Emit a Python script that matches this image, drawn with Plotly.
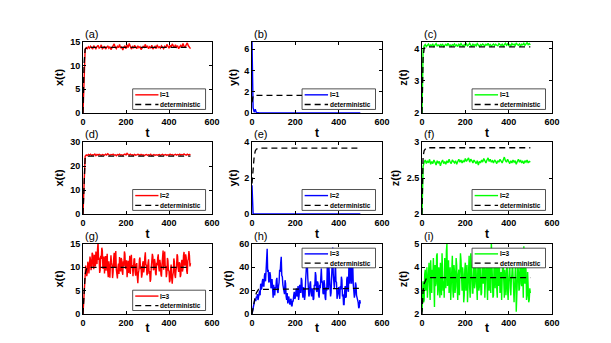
import plotly.graph_objects as go
from plotly.subplots import make_subplots

# sample times of the simulated paths and of the deterministic solutions
t = list(range(0, 505, 5))
t_fine = [i * 2.5 for i in range(201)]
t_det = [0, 5, 10, 15, 20, 30, 500]
t_ticks = [0, 200, 400, 600]

# I=1
x1 = [0, 10.2, 13.4, 13.8, 13.6, 14.0, 13.7, 14.1, 13.9, 13.5,
      14.2, 13.8, 13.6, 14.0, 14.3, 13.7, 13.9, 14.4, 13.6, 13.8,
      14.1, 13.5, 13.9, 14.2, 13.7, 14.0, 13.4, 13.8, 14.3, 14.6,
      13.9, 13.6, 14.1, 13.8, 14.5, 13.7, 14.0, 13.3, 13.9, 14.2,
      13.6, 14.4, 13.8, 14.7, 14.1, 13.5, 14.0, 13.7, 14.3, 13.9,
      13.6, 14.2, 13.8, 14.0, 13.4, 13.7, 14.1, 13.9, 14.5, 13.8,
      14.2, 13.6, 14.0, 13.7, 14.3, 13.5, 13.9, 14.1, 13.6, 14.4,
      13.8, 14.0, 13.7, 14.2, 13.9, 13.6, 14.1, 13.8, 14.5, 14.0,
      13.7, 14.3, 13.9, 14.6, 14.1, 13.8, 14.4, 13.9, 14.2, 13.6,
      14.0, 14.3, 13.8, 14.7, 14.1, 13.9, 14.4, 14.8, 14.2, 14.0, 13.6]
y1 = [6.66, 0.5, 0.08, 0.35, 0.05, 0.01] + [0.0] * 95
z1 = [2.0, 3.95, 4.08, 4.12, 4.06, 4.10, 4.14, 4.07, 4.11, 4.09,
      4.13, 4.06, 4.10, 4.15, 4.08, 4.11, 4.07, 4.12, 4.09, 4.14,
      4.06, 4.10, 4.13, 4.08, 4.16, 4.09, 4.11, 4.07, 4.12, 4.10,
      4.14, 4.08, 4.11, 4.06, 4.13, 4.09, 4.15, 4.10, 4.07, 4.12,
      4.09, 4.14, 4.08, 4.11, 4.16, 4.10, 4.07, 4.13, 4.09, 4.12,
      4.08, 4.15, 4.10, 4.06, 4.12, 4.09, 4.14, 4.11, 4.08, 4.13,
      4.10, 4.16, 4.09, 4.12, 4.07, 4.11, 4.14, 4.09, 4.13, 4.10,
      4.08, 4.15, 4.11, 4.09, 4.13, 4.07, 4.12, 4.16, 4.10, 4.14,
      4.09, 4.12, 4.08, 4.15, 4.11, 4.13, 4.09, 4.17, 4.12, 4.10,
      4.14, 4.08, 4.13, 4.11, 4.16, 4.10, 4.14, 4.18, 4.12, 4.15, 4.11]
x1_det = [0, 10.5, 13.5, 13.8, 13.85, 13.85, 13.85]
y1_det = [1.0, 1.6, 1.65, 1.65, 1.65, 1.65, 1.65]
z1_det = [2.0, 3.7, 4.0, 4.04, 4.05, 4.05, 4.05]

# I=2
x2 = [0, 17.5, 24.1, 24.6, 24.3, 24.8, 24.5, 24.9, 24.4, 24.7,
      24.6, 25.0, 24.3, 24.8, 24.5, 24.9, 24.6, 24.4, 24.8, 24.7,
      24.5, 24.9, 24.6, 25.1, 24.7, 24.4, 24.8, 24.6, 24.9, 24.5,
      24.7, 24.3, 24.8, 24.6, 24.9, 24.5, 24.7, 24.4, 24.8, 25.0,
      24.6, 25.3, 24.8, 24.5, 24.9, 24.6, 24.7, 24.4, 24.8, 24.5,
      24.6, 24.9, 24.7, 24.4, 24.8, 24.5, 24.7, 24.3, 24.6, 24.8,
      24.4, 24.7, 24.5, 24.9, 24.3, 24.6, 24.8, 24.4, 24.7, 24.5,
      24.6, 24.8, 24.4, 24.7, 24.9, 24.5, 24.6, 24.8, 24.4, 24.7,
      24.5, 24.9, 24.6, 24.8, 24.4, 24.7, 24.9, 24.5, 24.8, 24.6,
      24.9, 24.5, 24.8, 24.6, 25.0, 24.7, 24.5, 24.9, 24.6, 24.8, 24.7]
y2 = [1.6, 0.02] + [0.0] * 99
z2 = [2.0, 2.66, 2.72, 2.75, 2.70, 2.74, 2.71, 2.76, 2.69, 2.73,
      2.70, 2.75, 2.72, 2.68, 2.74, 2.71, 2.73, 2.67, 2.72, 2.75,
      2.70, 2.73, 2.69, 2.74, 2.71, 2.76, 2.72, 2.70, 2.75, 2.73,
      2.71, 2.74, 2.69, 2.73, 2.76, 2.72, 2.75, 2.71, 2.74, 2.72,
      2.77, 2.73, 2.75, 2.78, 2.72, 2.76, 2.74, 2.71, 2.75, 2.73,
      2.70, 2.74, 2.68, 2.73, 2.71, 2.75, 2.72, 2.77, 2.74, 2.71,
      2.75, 2.78, 2.73, 2.76, 2.72, 2.74, 2.71, 2.75, 2.73, 2.70,
      2.74, 2.72, 2.76, 2.73, 2.71, 2.75, 2.79, 2.74, 2.72, 2.76,
      2.73, 2.70, 2.74, 2.71, 2.75, 2.72, 2.74, 2.69, 2.73, 2.76,
      2.72, 2.75, 2.71, 2.73, 2.70, 2.74, 2.72, 2.75, 2.71, 2.73, 2.72]
x2_det = [0, 17.0, 23.5, 24.0, 24.1, 24.1, 24.1]
y2_det = [1.7, 2.6, 3.2, 3.5, 3.6, 3.66, 3.66]
z2_det = [2.0, 2.8, 2.88, 2.91, 2.92, 2.92, 2.92]

# I=3 (sampled on t_fine)
x3 = [0, 2.9, 4.8, 7.3, 8.2, 10.4, 9.5, 8.1, 8.9, 11.2, 10.6, 8.7, 9.8, 12.3, 11.5, 9.4, 10.2, 13.1, 12.8, 10.3,
      9.6, 12.7, 11.9, 10.2, 13.4, 11.1, 10.7, 13.8, 15.3, 11.6, 12.1, 8.8, 9.4, 12.5, 11.8, 14.2, 13.6, 9.7, 10.1, 12.3,
      8.7, 11.1, 12.4, 9.3, 10.6, 12.9, 9.2, 7.9, 11.3, 9.6, 7.8, 10.5, 12.6, 11.0, 10.4, 7.7, 8.9, 11.8, 13.1, 10.0,
      11.2, 13.5, 9.5, 8.3, 7.6, 9.9, 10.8, 8.6, 12.2, 10.1, 9.1, 12.0, 11.6, 9.0, 8.4, 11.3, 10.3, 13.4, 12.9, 9.8,
      9.7, 11.5, 7.9, 9.2, 11.4, 8.8, 10.1, 12.5, 8.6, 10.7, 12.7, 9.9, 10.5, 8.1, 9.3, 11.9, 11.8, 9.0, 8.2, 10.6,
      10.9, 8.0, 6.6, 8.7, 9.4, 11.7, 12.1, 9.6, 10.2, 7.8, 8.5, 10.8, 11.3, 8.9, 9.8, 12.2, 13.2, 10.4, 10.6, 8.3,
      8.9, 10.9, 11.7, 8.6, 9.2, 6.9, 7.4, 9.9, 10.8, 12.9, 12.3, 9.4, 9.6, 11.8, 11.1, 8.7, 8.3, 11.0, 10.4, 12.1,
      12.8, 10.0, 9.1, 11.6, 10.7, 8.5, 8.0, 10.6, 11.9, 13.6, 9.5, 11.4, 13.4, 10.3, 10.2, 7.9, 8.7, 12.0, 11.5, 9.2,
      9.3, 6.8, 7.2, 9.5, 10.6, 7.6, 6.5, 8.2, 8.9, 11.9, 11.2, 8.3, 7.7, 9.4, 10.1, 12.8, 12.4, 9.9, 9.0, 11.1,
      10.8, 7.9, 8.4, 10.9, 11.6, 9.1, 9.7, 12.5, 13.3, 10.4, 10.5, 12.8, 12.1, 9.2, 8.6, 11.4, 11.8, 13.5, 12.6, 10.2,
      10.9]
y3 = [0, 3, 5, 8, 9, 12, 13, 11, 15, 14, 17, 12, 14, 18, 20, 16, 26, 21, 22, 28,
      30, 24, 24, 33, 35, 28, 42, 47, 56, 36, 38, 27, 28, 36, 33, 22, 24, 30, 19, 14,
      25, 18, 16, 23, 22, 29, 31, 20, 18, 24, 27, 38, 36, 44, 49, 33, 32, 25, 22, 17,
      17, 29, 26, 15, 12, 18, 9, 14, 15, 10, 8, 12, 13, 7, 7, 11, 11, 16, 19, 13,
      14, 19, 22, 15, 17, 24, 12, 16, 25, 20, 18, 31, 29, 19, 14, 23, 21, 12, 16, 29,
      38, 45, 44, 31, 23, 15, 17, 26, 28, 19, 15, 22, 20, 12, 13, 25, 24, 36, 33, 20,
      19, 28, 26, 16, 14, 25, 22, 31, 39, 27, 28, 18, 17, 29, 25, 14, 12, 23, 20, 42,
      29, 21, 41, 30, 24, 15, 18, 33, 52, 57, 34, 24, 22, 31, 45, 28, 27, 13, 16, 22,
      23, 17, 13, 24, 21, 32, 29, 15, 17, 8, 8, 19, 24, 14, 15, 30, 32, 21, 19, 45,
      37, 26, 47, 33, 26, 40, 42, 25, 21, 14, 17, 27, 25, 16, 14, 11, 10, 5, 6, 12,
      9]
z3 = [2.1, 2.9, 3.4, 2.5, 2.6, 3.7, 3.9, 3.0, 3.1, 4.0, 2.7, 3.3, 3.8, 4.2, 3.2, 2.6, 4.3, 3.6, 2.9, 3.9,
      3.6, 4.4, 2.4, 2.3, 4.1, 3.2, 3.3, 4.5, 4.6, 2.8, 3.0, 4.0, 3.7, 2.7, 4.2, 3.5, 2.8, 4.6, 3.9, 3.0,
      3.4, 2.7, 4.4, 3.8, 3.1, 4.7, 5.0, 3.2, 3.6, 4.3, 2.9, 3.5, 4.0, 2.6, 3.3, 4.2, 4.5, 3.0, 2.7, 4.1,
      3.8, 2.9, 3.2, 4.4, 4.1, 3.1, 2.6, 3.7, 3.9, 2.8, 3.5, 4.6, 4.3, 3.2, 3.0, 4.0, 3.7, 2.5, 2.8, 3.9,
      4.2, 3.0, 3.4, 4.1, 2.5, 3.3, 3.9, 4.5, 3.1, 2.7, 4.6, 3.8, 3.6, 2.9, 2.9, 4.2, 4.0, 3.1, 3.3, 4.4,
      3.7, 2.9, 2.6, 3.9, 4.4, 3.0, 3.2, 4.3, 3.8, 2.8, 2.9, 4.0, 4.1, 3.3, 3.5, 4.6, 2.7, 3.4, 3.9, 4.5,
      3.3, 2.6, 4.2, 3.7, 3.0, 4.4, 3.7, 2.9, 5.1, 3.9, 3.4, 2.7, 2.8, 4.2, 4.0, 3.1, 3.6, 4.3, 3.1, 2.7,
      4.3, 3.2, 3.5, 4.1, 2.9, 3.6, 3.8, 2.6, 3.2, 4.4, 4.1, 3.0, 2.7, 3.9, 3.6, 2.8, 3.9, 4.5, 3.0, 2.6,
      3.4, 4.0, 4.2, 3.1, 2.8, 3.5, 3.7, 4.3, 3.3, 2.5, 2.5, 3.2, 4.0, 4.4, 2.1, 2.9, 3.5, 4.1, 3.8, 3.0,
      3.1, 4.2, 4.4, 3.3, 3.2, 4.0, 3.7, 2.7, 4.9, 3.6, 3.3, 4.1, 3.9, 2.6, 2.8, 3.8, 3.4, 2.5, 2.6, 3.1,
      2.9]
x3_det = [0, 5.5, 8.5, 9.5, 9.9, 10.0, 10.0]
y3_det = [0, 6, 11, 15, 18, 21, 22]
z3_det = [2.0, 3.0, 3.3, 3.45, 3.52, 3.56, 3.56]

ranges = {"x1": [0, 15], "y1": [0, 6.66], "z1": [2, 4.2],
          "x2": [0, 30], "y2": [0, 4], "z2": [2, 3],
          "x3": [0, 15], "y3": [0, 60], "z3": [2, 5]}
yticks = {"x1": [0, 5, 10, 15], "y1": [0, 2, 4, 6], "z1": [2, 3, 4],
          "x2": [0, 10, 20, 30], "y2": [0, 2, 4], "z2": [2, 2.5, 3],
          "x3": [0, 5, 10, 15], "y3": [0, 20, 40, 60], "z3": [2, 3, 4, 5]}

FONT = "Liberation Sans, Arial, sans-serif"
DASH = "6px,4px"
colors = {"x": "#ff0000", "y": "#0000ff", "z": "#00ff00"}
series = {"x1": x1, "y1": y1, "z1": z1, "x2": x2, "y2": y2, "z2": z2,
          "x3": x3, "y3": y3, "z3": z3}
dets = {"x1": x1_det, "y1": y1_det, "z1": z1_det, "x2": x2_det, "y2": y2_det,
        "z2": z2_det, "x3": x3_det, "y3": y3_det, "z3": z3_det}

# the page body has an 8px margin, so the figure is 16px smaller than the window
W, H, OFF = 595, 327, 8


def px_x(a, b):
    return [(a - OFF) / W, (b - OFF) / W]


def px_y(top, bottom):
    return [1 - (bottom - OFF) / H, 1 - (top - OFF) / H]


col_dom = [px_x(83, 212), px_x(252, 382), px_x(422, 552)]
row_dom = [px_y(42, 113), px_y(142, 214), px_y(244, 314)]

fig = make_subplots(rows=3, cols=3)
tags = "abcdefghi"
shapes = []
annos = []
for r in range(3):
    for c in range(3):
        var = "xyz"[c]
        key = f"{var}{r + 1}"
        idx = r * 3 + c + 1
        sfx = "" if idx == 1 else str(idx)
        tt = t_fine if r == 2 else t
        fig.add_trace(go.Scatter(x=tt, y=series[key], mode="lines",
                                 line=dict(color=colors[var], width=1.4),
                                 name=f"I={r + 1}", showlegend=False),
                      row=r + 1, col=c + 1)
        fig.add_trace(go.Scatter(x=t_det, y=dets[key], mode="lines",
                                 line=dict(color="black", width=1.3, dash=DASH),
                                 name="deterministic", showlegend=False),
                      row=r + 1, col=c + 1)
        fig.update_xaxes(domain=col_dom[c], range=[0, 600], tickvals=t_ticks,
                         title=dict(text="t", font=dict(size=12, weight="bold"),
                                    standoff=2),
                         row=r + 1, col=c + 1)
        fig.update_yaxes(domain=row_dom[r], range=ranges[key], tickvals=yticks[key],
                         title=dict(text=f"{var}(t)", font=dict(size=11, weight="bold"),
                                    standoff=4),
                         row=r + 1, col=c + 1)
        xd, yd = f"x{sfx} domain", f"y{sfx} domain"
        annos.append(dict(text=f"({tags[idx - 1]})", xref=xd, yref=yd, x=0.0, y=1.0,
                          xanchor="left", yanchor="bottom", showarrow=False,
                          font=dict(size=11, color="black")))
        # legend box
        if key in ("y3", "z3"):
            b0, b1 = 0.66, 0.94
        else:
            b0, b1 = 0.05, 0.34
        l0, l1 = 0.385, 0.95
        shapes.append(dict(type="rect", xref=xd, yref=yd, x0=l0, x1=l1, y0=b0, y1=b1,
                           line=dict(color="#262626", width=0.8), fillcolor="white",
                           layer="above"))
        ya = b1 - (b1 - b0) * 0.29
        yb = b1 - (b1 - b0) * 0.76
        shapes.append(dict(type="line", xref=xd, yref=yd, x0=l0 + 0.02, x1=l0 + 0.2,
                           y0=ya, y1=ya, line=dict(color=colors[var], width=1.4),
                           layer="above"))
        shapes.append(dict(type="line", xref=xd, yref=yd, x0=l0 + 0.02, x1=l0 + 0.2,
                           y0=yb, y1=yb, line=dict(color="black", width=1.3, dash=DASH),
                           layer="above"))
        for yy, txt in ((ya, f"I={r + 1}"), (yb, "deterministic")):
            annos.append(dict(text=txt, xref=xd, yref=yd, x=l0 + 0.205, y=yy,
                              xanchor="left", yanchor="middle", showarrow=False,
                              borderpad=0,
                              font=dict(size=6.5, color="black", weight="bold")))

axis_style = dict(showline=True, linecolor="black", linewidth=0.8, mirror="ticks",
                  ticks="inside", ticklen=3, tickcolor="black", showgrid=False,
                  zeroline=False, automargin=False,
                  tickfont=dict(size=9, weight="bold", color="black"))
fig.update_xaxes(**axis_style)
fig.update_yaxes(**axis_style)
fig.update_layout(width=W, height=H, margin=dict(l=0, r=0, t=0, b=0),
                  paper_bgcolor="white", plot_bgcolor="white",
                  font=dict(family=FONT, color="black"),
                  shapes=shapes, annotations=annos)
fig.write_html("out.html")
